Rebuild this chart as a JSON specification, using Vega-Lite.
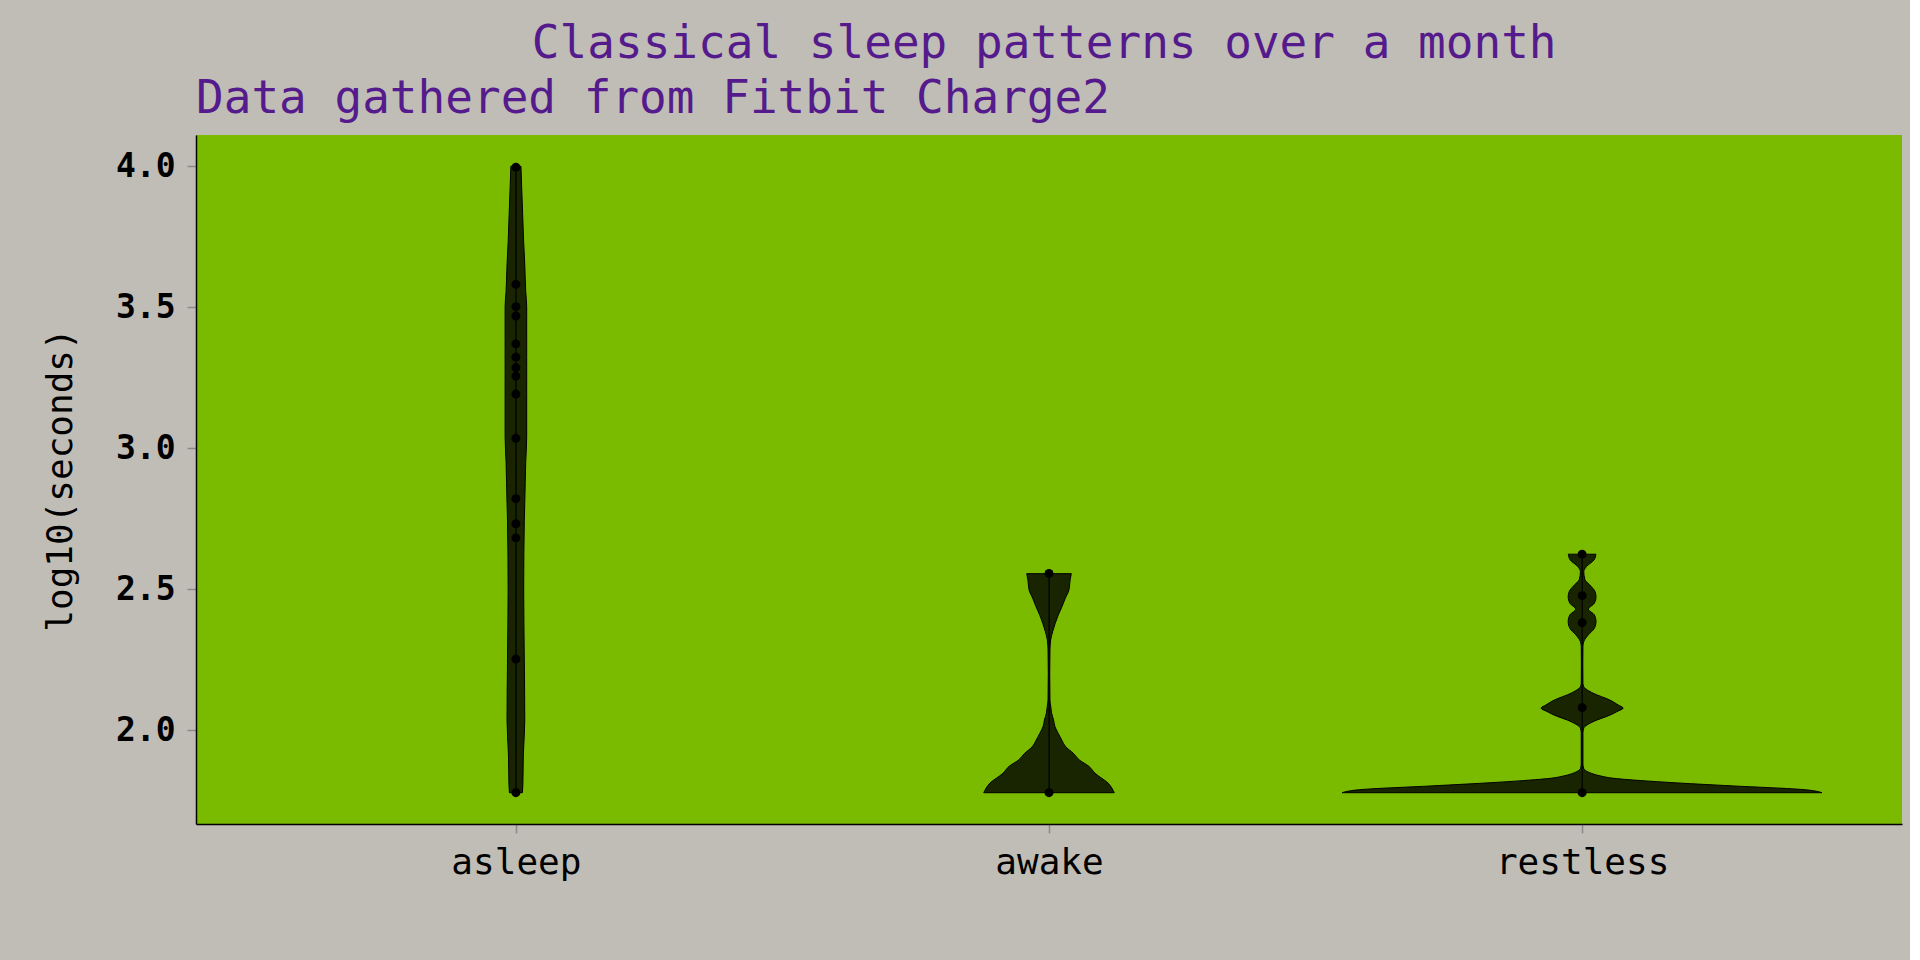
{
  "$schema": "https://vega.github.io/schema/vega-lite/v6.json",
  "background": "#c0bdb6",
  "padding": {"left": 42, "top": 21, "right": 8, "bottom": 84},
  "title": {"text": "Classical sleep patterns over a month", "anchor": "middle", "dx": 72, "offset": 8},
  "datasets": {
    "violin": [
      {"category": "asleep", "value": 1.778, "violinwidth": 0.027},
      {"category": "asleep", "value": 1.806, "violinwidth": 0.029},
      {"category": "asleep", "value": 1.912, "violinwidth": 0.031},
      {"category": "asleep", "value": 2.036, "violinwidth": 0.037},
      {"category": "asleep", "value": 2.249, "violinwidth": 0.035},
      {"category": "asleep", "value": 2.497, "violinwidth": 0.0325},
      {"category": "asleep", "value": 2.745, "violinwidth": 0.035},
      {"category": "asleep", "value": 2.805, "violinwidth": 0.037},
      {"category": "asleep", "value": 2.952, "violinwidth": 0.041},
      {"category": "asleep", "value": 3.041, "violinwidth": 0.045},
      {"category": "asleep", "value": 3.266, "violinwidth": 0.045},
      {"category": "asleep", "value": 3.502, "violinwidth": 0.045},
      {"category": "asleep", "value": 3.555, "violinwidth": 0.041},
      {"category": "asleep", "value": 3.65, "violinwidth": 0.037},
      {"category": "asleep", "value": 3.738, "violinwidth": 0.032},
      {"category": "asleep", "value": 3.833, "violinwidth": 0.028},
      {"category": "asleep", "value": 3.927, "violinwidth": 0.024},
      {"category": "asleep", "value": 4.0, "violinwidth": 0.021},
      {"category": "awake", "value": 1.778, "violinwidth": 0.272},
      {"category": "awake", "value": 1.812, "violinwidth": 0.246},
      {"category": "awake", "value": 1.847, "violinwidth": 0.192},
      {"category": "awake", "value": 1.871, "violinwidth": 0.167},
      {"category": "awake", "value": 1.894, "violinwidth": 0.127},
      {"category": "awake", "value": 1.918, "violinwidth": 0.101},
      {"category": "awake", "value": 1.941, "violinwidth": 0.07},
      {"category": "awake", "value": 1.965, "violinwidth": 0.053},
      {"category": "awake", "value": 1.989, "violinwidth": 0.038},
      {"category": "awake", "value": 2.012, "violinwidth": 0.025},
      {"category": "awake", "value": 2.036, "violinwidth": 0.019},
      {"category": "awake", "value": 2.06, "violinwidth": 0.011},
      {"category": "awake", "value": 2.083, "violinwidth": 0.0075},
      {"category": "awake", "value": 2.107, "violinwidth": 0.004},
      {"category": "awake", "value": 2.202, "violinwidth": 0.003},
      {"category": "awake", "value": 2.284, "violinwidth": 0.004},
      {"category": "awake", "value": 2.32, "violinwidth": 0.007},
      {"category": "awake", "value": 2.349, "violinwidth": 0.015},
      {"category": "awake", "value": 2.379, "violinwidth": 0.026},
      {"category": "awake", "value": 2.409, "violinwidth": 0.039},
      {"category": "awake", "value": 2.438, "violinwidth": 0.054},
      {"category": "awake", "value": 2.468, "violinwidth": 0.068},
      {"category": "awake", "value": 2.497, "violinwidth": 0.083},
      {"category": "awake", "value": 2.533, "violinwidth": 0.088},
      {"category": "awake", "value": 2.555, "violinwidth": 0.093},
      {"category": "restless", "value": 1.778, "violinwidth": 1.0},
      {"category": "restless", "value": 1.79, "violinwidth": 0.908},
      {"category": "restless", "value": 1.802, "violinwidth": 0.63},
      {"category": "restless", "value": 1.815, "violinwidth": 0.352},
      {"category": "restless", "value": 1.823, "violinwidth": 0.213},
      {"category": "restless", "value": 1.828, "violinwidth": 0.143},
      {"category": "restless", "value": 1.838, "violinwidth": 0.074},
      {"category": "restless", "value": 1.849, "violinwidth": 0.032},
      {"category": "restless", "value": 1.865, "violinwidth": 0.006},
      {"category": "restless", "value": 1.883, "violinwidth": 0.0035},
      {"category": "restless", "value": 1.989, "violinwidth": 0.0035},
      {"category": "restless", "value": 2.007, "violinwidth": 0.007},
      {"category": "restless", "value": 2.03, "violinwidth": 0.046},
      {"category": "restless", "value": 2.054, "violinwidth": 0.118},
      {"category": "restless", "value": 2.066, "violinwidth": 0.146},
      {"category": "restless", "value": 2.078, "violinwidth": 0.171},
      {"category": "restless", "value": 2.089, "violinwidth": 0.151},
      {"category": "restless", "value": 2.107, "violinwidth": 0.115},
      {"category": "restless", "value": 2.131, "violinwidth": 0.046},
      {"category": "restless", "value": 2.154, "violinwidth": 0.007},
      {"category": "restless", "value": 2.166, "violinwidth": 0.0035},
      {"category": "restless", "value": 2.237, "violinwidth": 0.003},
      {"category": "restless", "value": 2.296, "violinwidth": 0.0035},
      {"category": "restless", "value": 2.314, "violinwidth": 0.007},
      {"category": "restless", "value": 2.338, "violinwidth": 0.026},
      {"category": "restless", "value": 2.361, "violinwidth": 0.051},
      {"category": "restless", "value": 2.385, "violinwidth": 0.058},
      {"category": "restless", "value": 2.409, "violinwidth": 0.051},
      {"category": "restless", "value": 2.429, "violinwidth": 0.026},
      {"category": "restless", "value": 2.45, "violinwidth": 0.051},
      {"category": "restless", "value": 2.473, "violinwidth": 0.058},
      {"category": "restless", "value": 2.491, "violinwidth": 0.054},
      {"category": "restless", "value": 2.515, "violinwidth": 0.032},
      {"category": "restless", "value": 2.533, "violinwidth": 0.012},
      {"category": "restless", "value": 2.562, "violinwidth": 0.007},
      {"category": "restless", "value": 2.58, "violinwidth": 0.018},
      {"category": "restless", "value": 2.604, "violinwidth": 0.05},
      {"category": "restless", "value": 2.624, "violinwidth": 0.0575}
    ],
    "points": [
      {"category": "asleep", "value": 1.778},
      {"category": "asleep", "value": 2.252},
      {"category": "asleep", "value": 2.682},
      {"category": "asleep", "value": 2.732},
      {"category": "asleep", "value": 2.821},
      {"category": "asleep", "value": 3.035},
      {"category": "asleep", "value": 3.192},
      {"category": "asleep", "value": 3.256},
      {"category": "asleep", "value": 3.286},
      {"category": "asleep", "value": 3.323},
      {"category": "asleep", "value": 3.37},
      {"category": "asleep", "value": 3.469},
      {"category": "asleep", "value": 3.502},
      {"category": "asleep", "value": 3.581},
      {"category": "asleep", "value": 3.997},
      {"category": "awake", "value": 1.778},
      {"category": "awake", "value": 2.556},
      {"category": "restless", "value": 1.778},
      {"category": "restless", "value": 2.08},
      {"category": "restless", "value": 2.381},
      {"category": "restless", "value": 2.477},
      {"category": "restless", "value": 2.624}
    ]
  },
  "vconcat": [
    {
      "title": {"text": "Data gathered from Fitbit Charge2", "anchor": "start", "frame": "group", "offset": 12},
      "width": 1706,
      "height": 689,
      "encoding": {
        "y": {
          "field": "value",
          "type": "quantitative",
          "scale": {"domain": [1.667, 4.111], "nice": false, "zero": false},
          "axis": {
            "values": [2, 2.5, 3, 3.5, 4],
            "format": ".1f",
            "title": "log10(seconds)",
            "labelFontSize": 33,
            "labelFontWeight": "bold",
            "labelPadding": 12,
            "titleFontSize": 36,
            "titleFontWeight": "normal",
            "titlePadding": 36
          }
        }
      },
      "layer": [
        {
          "data": {"name": "violin"},
          "transform": [{"filter": "datum.category === 'asleep'"}],
          "mark": {"type": "area", "orient": "horizontal", "interpolate": "monotone", "fill": "#182500", "stroke": "black", "strokeWidth": 1},
          "encoding": {"x": {"field": "violinwidth", "type": "quantitative", "stack": null, "scale": {"domain": [0, 1], "range": [319.9, 559.8], "nice": false}, "axis": null}}
        },
        {
          "data": {"name": "violin"},
          "transform": [{"filter": "datum.category === 'asleep'"}],
          "mark": {"type": "area", "orient": "horizontal", "interpolate": "monotone", "fill": "#182500", "stroke": "black", "strokeWidth": 1},
          "encoding": {"x": {"field": "violinwidth", "type": "quantitative", "stack": null, "scale": {"domain": [0, 1], "range": [319.9, 80.0], "nice": false}, "axis": null}}
        },
        {
          "data": {"name": "violin"},
          "transform": [{"filter": "datum.category === 'awake'"}],
          "mark": {"type": "area", "orient": "horizontal", "interpolate": "monotone", "fill": "#182500", "stroke": "black", "strokeWidth": 1},
          "encoding": {"x": {"field": "violinwidth", "type": "quantitative", "stack": null, "scale": {"domain": [0, 1], "range": [853, 1092.9], "nice": false}, "axis": null}}
        },
        {
          "data": {"name": "violin"},
          "transform": [{"filter": "datum.category === 'awake'"}],
          "mark": {"type": "area", "orient": "horizontal", "interpolate": "monotone", "fill": "#182500", "stroke": "black", "strokeWidth": 1},
          "encoding": {"x": {"field": "violinwidth", "type": "quantitative", "stack": null, "scale": {"domain": [0, 1], "range": [853, 613.1], "nice": false}, "axis": null}}
        },
        {
          "data": {"name": "violin"},
          "transform": [{"filter": "datum.category === 'restless'"}],
          "mark": {"type": "area", "orient": "horizontal", "interpolate": "monotone", "fill": "#182500", "stroke": "black", "strokeWidth": 1},
          "encoding": {"x": {"field": "violinwidth", "type": "quantitative", "stack": null, "scale": {"domain": [0, 1], "range": [1386.1, 1626.0], "nice": false}, "axis": null}}
        },
        {
          "data": {"name": "violin"},
          "transform": [{"filter": "datum.category === 'restless'"}],
          "mark": {"type": "area", "orient": "horizontal", "interpolate": "monotone", "fill": "#182500", "stroke": "black", "strokeWidth": 1},
          "encoding": {"x": {"field": "violinwidth", "type": "quantitative", "stack": null, "scale": {"domain": [0, 1], "range": [1386.1, 1146.2], "nice": false}, "axis": null}}
        },
        {
          "data": {"name": "points"},
          "mark": {"type": "circle", "size": 80, "color": "black", "opacity": 1},
          "encoding": {
            "x": {
              "field": "category",
              "type": "nominal",
              "scale": {"type": "point", "padding": 0.6, "domain": ["asleep", "awake", "restless"]},
              "axis": {"title": null, "labelAngle": 0, "labelFontSize": 36, "labelPadding": 12}
            }
          }
        }
      ],
      "resolve": {"scale": {"x": "independent"}}
    }
  ],
  "config": {
    "view": {"fill": "#7abb00", "stroke": null},
    "axis": {
      "grid": false,
      "domainColor": "black",
      "domainWidth": 1.5,
      "tickColor": "#8a8a8a",
      "tickSize": 9,
      "tickWidth": 1.5,
      "labelFont": "DejaVu Sans Mono",
      "titleFont": "DejaVu Sans Mono",
      "labelColor": "black",
      "titleColor": "black"
    },
    "title": {"font": "DejaVu Sans Mono", "color": "#551a8b", "fontWeight": "normal", "fontSize": 46}
  }
}
